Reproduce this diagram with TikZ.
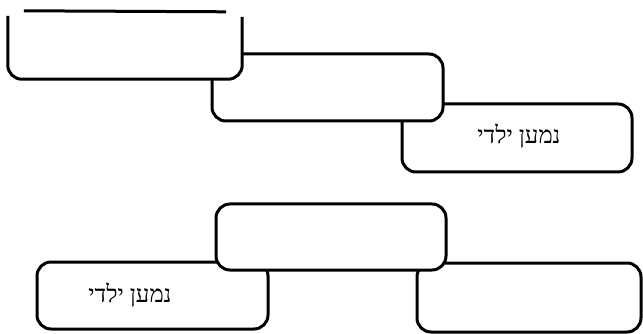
\documentclass[tikz,border=0pt]{standalone}
\usepackage{fontspec}
\newfontfamily\hebfont[Script=Hebrew]{Liberation Serif}
\TeXXeTstate=1
\begin{document}
\begin{tikzpicture}[x=1pt,y=-1pt,
  box/.style={draw, line width=3pt, fill=white, rounded corners=14pt, inner sep=0pt},
  boxfill/.style={fill=white, rounded corners=14pt, inner sep=0pt},
  edge/.style={line width=3pt, rounded corners=14pt},
  lbl/.style={font=\hebfont\fontsize{24}{28}\selectfont}]
\useasboundingbox (0,0) rectangle (643,334);
% top chain: C behind B behind A
\node[box, minimum width=230pt, minimum height=68pt] (C) at (517,138) {};
\node[lbl] (Ct) at (519,136) {\beginR נמען ילדי\endR};
\node[box, minimum width=231pt, minimum height=67pt] (B) at (327.5,87.5) {};
\node[boxfill, minimum width=234pt, minimum height=68pt] (A) at (125,45) {};
\draw[edge] (A.west |- 0,16) -- (A.south west) -- (A.south east) -- (A.east |- 0,17);
\coordinate (At1) at ([xshift=16pt]A.north west);
\coordinate (At2) at ([xshift=-16pt,yshift=-1pt]A.north east);
\draw[edge] (At1) -- (At2);
% bottom group: E and F behind D
\node[box, minimum width=231pt, minimum height=67pt] (E) at (152.5,295.5) {};
\node[lbl] (Et) at (130,295) {\beginR נמען ילדי\endR};
\node[box, minimum width=224pt, minimum height=69pt] (F) at (529,297.5) {};
\node[box, minimum width=230pt, minimum height=66pt] (D) at (331,237) {};
\end{tikzpicture}
\end{document}
